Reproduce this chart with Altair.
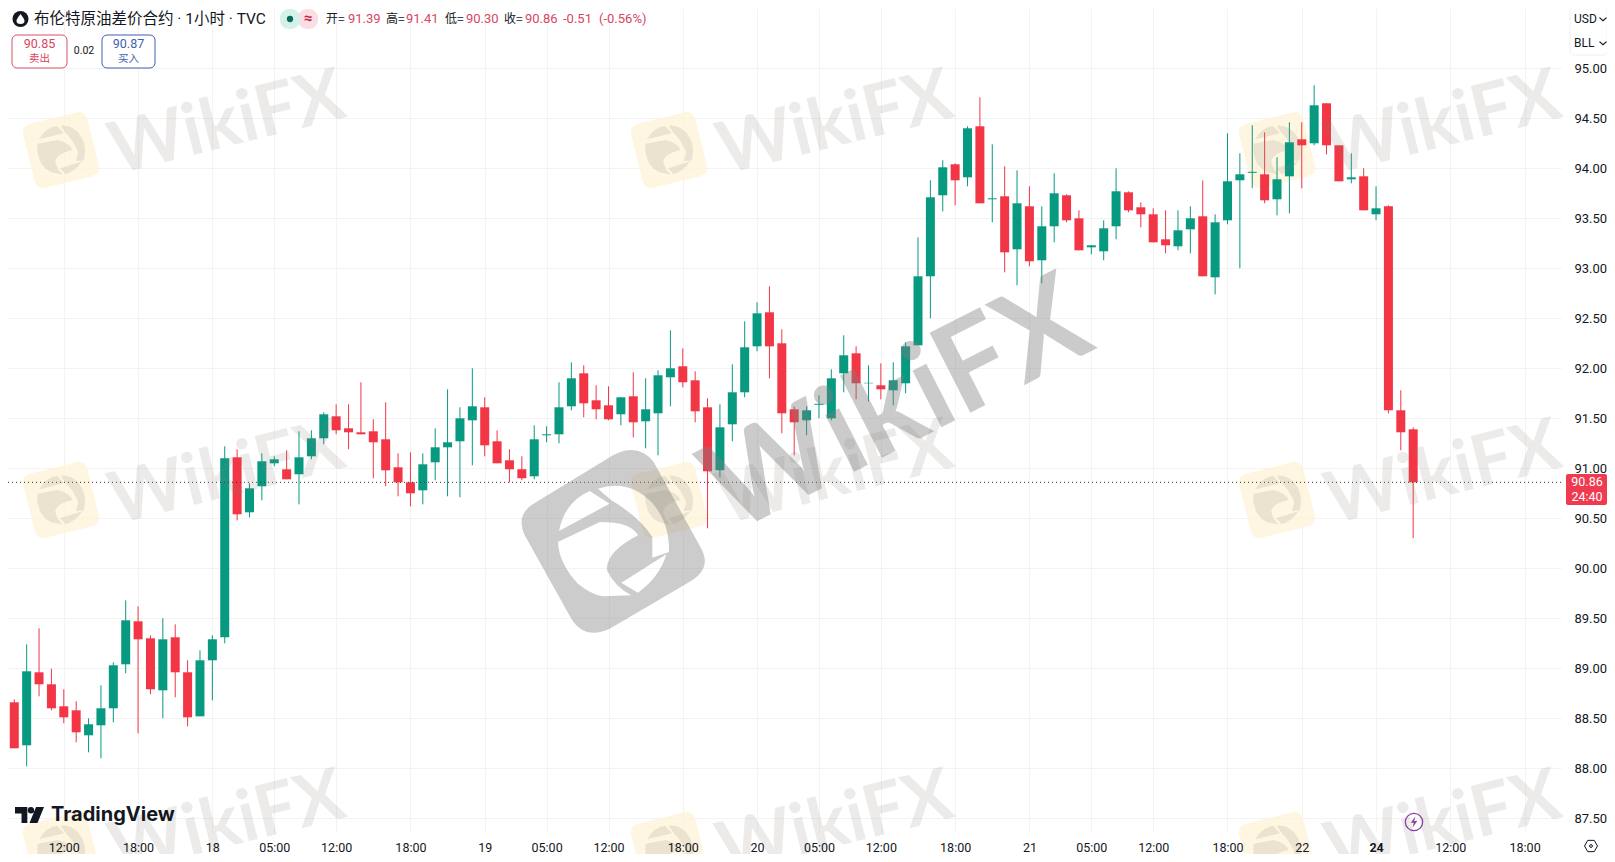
import re
import altair as alt
import pandas as pd

# ---- chart values -------------------------------------------------------
opens = [88.64,88.66,88.23,88.96,88.84,88.62,88.58,88.33,88.43,88.60,89.04,89.47,89.30,88.78,89.31,88.96,88.52,89.08,89.31,91.11,
         90.56,90.82,91.05,90.99,90.94,91.12,91.30,91.52,91.40,91.36,91.37,91.29,91.01,90.86,90.78,91.06,91.21,91.27,91.48,91.61,
         91.27,91.08,90.99,90.92,91.33,91.34,91.62,91.95,91.68,91.63,91.54,91.72,91.47,91.55,91.91,92.02,91.88,91.61,90.98,91.44,
         91.76,92.22,92.56,92.25,91.59,91.48,91.635,91.50,91.95,92.15,91.85,91.83,91.78,91.85,92.23,92.92,93.73,94.04,93.91,94.42,
         93.69,93.72,93.19,93.62,93.08,93.42,93.73,93.50,93.21,93.17,93.42,93.76,93.61,93.54,93.29,93.22,93.39,93.52,92.91,93.48,
         93.88,93.955,93.94,93.69,93.92,94.29,94.25,94.65,94.23,93.89,93.92,93.54,93.62,91.58,91.39]
highs = [88.67,88.69,89.24,89.40,88.997,88.79,88.67,88.50,88.83,89.06,89.68,89.62,89.33,89.50,89.44,89.08,89.18,89.33,91.22,91.19,
         90.85,91.15,91.12,91.18,91.37,91.38,91.56,91.64,91.64,91.86,91.49,91.66,91.15,91.16,91.15,91.40,91.79,91.61,92.00,91.71,
         91.38,91.19,91.12,91.43,91.42,91.86,92.06,92.03,91.83,91.82,91.71,91.96,91.90,91.98,92.38,92.20,91.97,91.70,91.64,92.04,
         92.47,92.66,92.82,92.39,91.62,91.62,91.73,91.99,92.33,92.22,92.03,92.05,92.06,92.26,93.31,93.88,94.08,94.05,94.42,94.71,
         94.24,94.02,93.98,93.82,93.62,93.95,93.74,93.58,93.23,93.48,94.00,93.77,93.66,93.60,93.58,93.58,93.62,93.88,93.54,94.35,
         94.15,94.43,94.36,94.11,94.46,94.46,94.83,94.65,94.23,94.15,94.00,93.82,93.63,91.78,91.41]
lows = [88.63,88.20,88.02,88.72,88.58,88.45,88.26,88.16,88.10,88.46,88.95,88.35,88.74,88.50,88.71,88.42,88.52,88.68,89.25,90.48,
        90.51,90.68,91.02,90.89,90.64,91.09,91.24,91.34,91.19,91.34,90.90,90.82,90.72,90.62,90.64,90.88,90.72,90.71,91.03,91.12,
        91.05,90.86,90.88,90.89,91.26,91.25,91.58,91.51,91.49,91.48,91.43,91.31,91.20,91.13,91.62,91.81,91.46,90.40,90.91,91.27,
        91.71,92.17,91.90,91.35,91.13,91.33,91.50,91.48,91.76,91.69,91.67,91.69,91.63,91.75,92.23,92.50,93.57,93.63,93.82,93.65,
        93.46,92.96,92.83,93.02,92.85,93.26,93.46,93.18,93.14,93.08,93.29,93.56,93.41,93.26,93.15,93.18,93.15,92.92,92.74,93.44,
        93.00,93.80,93.65,93.53,93.55,93.80,94.23,94.14,93.87,93.85,93.58,93.48,91.55,91.18,90.30]
closes = [88.67,88.20,88.97,88.84,88.60,88.51,88.36,88.44,88.60,89.03,89.48,89.29,88.79,89.29,88.96,88.51,89.08,89.29,91.10,90.54,
          90.80,91.07,91.09,90.89,91.11,91.30,91.54,91.38,91.36,91.34,91.26,90.98,90.86,90.75,91.04,91.21,91.26,91.50,91.62,91.23,
          91.05,90.99,90.90,91.29,91.34,91.61,91.90,91.65,91.59,91.49,91.71,91.46,91.59,91.93,92.00,91.86,91.57,90.97,91.41,91.76,
          92.21,92.55,92.22,91.55,91.46,91.58,91.645,91.90,92.13,91.85,91.855,91.79,91.88,92.22,92.92,93.71,94.01,93.88,94.40,93.65,
          93.70,93.16,93.65,93.07,93.42,93.75,93.48,93.18,93.23,93.40,93.77,93.58,93.54,93.26,93.23,93.38,93.50,92.92,93.46,93.87,
          93.94,93.965,93.68,93.89,94.26,94.23,94.63,94.23,93.87,93.91,93.58,93.60,91.58,91.36,90.86]

price_ticks = [87.5,88,88.5,89,89.5,90,90.5,91,91.5,92,92.5,93,93.5,94,94.5,95]
time_ticks = [5,11,17,22,27,33,39,44,49,55,61,66,71,77,83,88,93,99,105,111,117,123]
time_labels = ["12:00","18:00","18","05:00","12:00","18:00","19","05:00","12:00","18:00","20","05:00","12:00","18:00","21",
               "05:00","12:00","18:00","22","24","12:00","18:00"]

GREEN, RED = "#089981", "#F23645"
W, H = 1553, 824
one = pd.DataFrame({"a": [0]})

df = pd.DataFrame({"i": range(len(opens)), "o": opens, "h": highs, "l": lows, "c": closes})
df["dir"] = ["up" if c >= o else "down" for o, c in zip(opens, closes)]

color = alt.Color("dir:N", scale=alt.Scale(domain=["up", "down"], range=[GREEN, RED]), legend=None)
x_scale = alt.Scale(domain=[0.4927, 125.94], nice=False, zero=False, padding=0)
y_scale = alt.Scale(domain=[87.363, 95.603], nice=False, zero=False, padding=0)
label_map = "{" + ",".join(f"'{t}':'{s}'" for t, s in zip(time_ticks, time_labels)) + "}"

# gridlines stay below the candles, tick labels above the watermark
x_grid = alt.Axis(values=time_ticks, title=None, orient="bottom", grid=True, gridColor="#f3f3f3", domain=False,
                  ticks=False, labels=False)
y_grid = alt.Axis(values=price_ticks, title=None, orient="right", grid=True, gridColor="#f3f3f3", domain=False,
                  ticks=False, labels=False)
x_axis = alt.Axis(values=time_ticks, labelExpr=label_map + "[datum.value]", title=None, orient="bottom", grid=False,
                  domain=False, ticks=False, labelPadding=9, labelFontSize=12.5, labelFont="Roboto",
                  labelColor="#131722", labelOverlap=False, labelBound=False, labelFlush=False, zindex=1,
                  labelFontWeight={"condition": {"test": "datum.value==111", "value": "bold"}, "value": "normal"})
y_axis = alt.Axis(values=price_ticks, format=".2f", title=None, orient="right", grid=False,
                  domain=False, ticks=False, labelPadding=13, labelFontSize=13, labelFont="Roboto", zindex=1,
                  labelColor="#131722", labelOverlap=False, labelBound=False, labelFlush=False)

grid_layer = alt.Chart(df).mark_rule(strokeWidth=1, opacity=0).encode(
    x=alt.X("i:Q", scale=x_scale, axis=x_grid), y=alt.Y("l:Q", scale=y_scale, axis=y_grid), y2="h:Q")
label_layer = alt.Chart(df).mark_rule(strokeWidth=1, opacity=0).encode(
    x=alt.X("i:Q", scale=x_scale, axis=x_axis), y=alt.Y("l:Q", scale=y_scale, axis=y_axis), y2="h:Q")
wicks = alt.Chart(df).mark_rule(strokeWidth=1).encode(
    x=alt.X("i:Q", scale=x_scale, axis=None), y=alt.Y("l:Q", scale=y_scale, axis=None), y2="h:Q", color=color)
bodies = alt.Chart(df).mark_bar(size=9).encode(
    x=alt.X("i:Q", scale=x_scale, axis=None), y=alt.Y("o:Q", scale=y_scale, axis=None), y2="c:Q", color=color)
last_line = alt.Chart(one).mark_rule(strokeDash=[1, 3], color="#333333", strokeWidth=1).encode(
    y=alt.datum(closes[-1], scale=y_scale, axis=None), x=alt.value(0), x2=alt.value(W))


# ---- helpers: page coordinates -> chart coordinates ---------------------
def text(px, py, s, size=13, col="#131722", font="Roboto", align="left", weight="normal", angle=0, opacity=1):
    kw = {"angle": angle % 360} if angle else {}
    return alt.Chart(one).mark_text(text=s, fontSize=size, color=col, font=font, align=align, baseline="middle",
                                    fontWeight=weight, opacity=opacity, **kw).encode(
        x=alt.value(px - 8), y=alt.value(py - 8))


def rect(x0, y0, x1, y1, fill="#ffffff", stroke=None, r=0, sw=1, opacity=1):
    kw = {"stroke": stroke, "strokeWidth": sw} if stroke else {}
    return alt.Chart(one).mark_rect(color=fill, cornerRadius=r, opacity=opacity, **kw).encode(
        x=alt.value(x0 - 8), x2=alt.value(x1 - 8), y=alt.value(y0 - 8), y2=alt.value(y1 - 8))


def symbol(px, py, shape, side, fill=None, stroke=None, sw=1, angle=0, opacity=1):
    kw = {"angle": angle % 360} if angle else {}
    if fill:
        kw.update(filled=True, color=fill, strokeWidth=0)
    else:
        kw.update(filled=False, color=stroke, strokeWidth=sw)
    return alt.Chart(one).mark_point(shape=shape, size=side ** 2, opacity=opacity, **kw).encode(
        x=alt.value(px - 8), y=alt.value(py - 8))


def norm(path, cx=340, cy=365, half=270):
    toks = re.findall(r"[MLQZ]|-?\d+(?:\.\d+)?", path)
    out, idx = [], 0
    for t in toks:
        if t in "MLQZ":
            out.append(t)
        else:
            v = float(t)
            out.append(f"{(v - (cx if idx % 2 == 0 else cy)) / half:.3f}")
            idx += 1
    return " ".join(out)


OUTER = "M110,245 L340,105 Q415,65 462,125 L605,385 Q640,450 560,490 L330,625 Q255,660 215,595 L75,345 Q45,280 110,245 Z"
INNER = ("M178,332 L330,250 L270,212 Q195,245 178,332 Z "
         "M295,205 L335,240 Q420,290 458,350 L458,412 L508,395 Q510,305 455,245 Q385,175 295,205 Z "
         "M175,365 Q178,430 235,490 Q270,520 310,528 L395,525 Q345,500 322,450 Q318,395 415,345 Q395,305 300,305 L175,365 Z "
         "M365,487 L415,517 Q480,470 500,402 Z")
BIG_LOGO = norm(OUTER + " " + INNER)
EAGLE = norm(INNER)
ROUND_SQ = "M-0.7,-1 L0.7,-1 Q1,-1 1,-0.7 L1,0.7 Q1,1 0.7,1 L-0.7,1 Q-1,1 -1,0.7 L-1,-0.7 Q-1,-1 -0.7,-1 Z"
TV = ("M-1,-0.55 L-0.15,-0.55 L-0.15,0.55 L-0.55,0.55 L-0.55,-0.1 L-1,-0.1 Z "
      "M0.1,-0.55 Q0.32,-0.55 0.32,-0.32 Q0.32,-0.1 0.1,-0.1 Q-0.12,-0.1 -0.12,-0.32 Q-0.12,-0.55 0.1,-0.55 Z "
      "M0.45,-0.55 L1,-0.55 L0.55,0.55 L0,0.55 Z")
BOLT = "M0.25,-1 L-0.6,0.15 L-0.05,0.15 L-0.25,1 L0.6,-0.2 L0.05,-0.2 Z"
CHEV = "M-1,-0.4 L0,0.5 L1,-0.4"
HEX = "M-0.5,-0.87 L0.5,-0.87 L1,0 L0.5,0.87 L-0.5,0.87 L-1,0 Z"
DROP = "M0,-1 Q0.8,0 0.8,0.35 Q0.8,1 0,1 Q-0.8,1 -0.8,0.35 Q-0.8,0 0,-1 Z"

logo_xy = [(x, y) for y in (150, 500, 850) for x in (61, 669, 1277)]
text_xy = [(x, y) for y in (124, 474, 824) for x in (227, 835, 1443)]

under = [symbol(x, y, ROUND_SQ, 66, fill="#fdf3d6", angle=-14, opacity=0.75) for x, y in logo_xy]
over = [symbol(x, y, EAGLE, 79, fill="#8a8078", angle=15, opacity=0.16) for x, y in logo_xy]
over += [text(x, y, "WikiFX", size=72, col="#8a8078", font="Lato", align="center", weight="bold", angle=-14, opacity=0.15)
         for x, y in text_xy]
over += [symbol(613, 542, BIG_LOGO, 180, fill="#7f7f7f", opacity=0.4),
         text(898, 408, "WikiFX", size=124, col="#7f7f7f", font="Lato", align="center", weight="bold", angle=-27, opacity=0.4)]

CJK = "Noto Sans CJK SC"
VAL = "#d9455f"
ui = [
    alt.Chart(one).mark_circle(size=256, color="#131722", opacity=1).encode(x=alt.value(12.5), y=alt.value(11)),
    symbol(20.5, 19, DROP, 10, fill="#ffffff"),
    text(34, 19, "布伦特原油差价合约 · 1小时 · TVC", size=15.5, font="Roboto, 'Noto Sans CJK SC'"),
    rect(298, 9, 318, 29, fill="#fbdde4", r=9),
    rect(280, 9, 300, 29, fill="#d6f1ea", r=9),
    alt.Chart(one).mark_circle(size=40, color="#0b6b5d", opacity=1).encode(x=alt.value(282), y=alt.value(11)),
    text(308, 18, "≈", size=15, col="#c2244a", align="center", weight="bold"),
    text(326, 19, "开=", size=12, font=CJK), text(348, 19, "91.39", col=VAL),
    text(386, 19, "高=", size=12, font=CJK), text(406, 19, "91.41", col=VAL),
    text(445, 19, "低=", size=12, font=CJK), text(466, 19, "90.30", col=VAL),
    text(504, 19, "收=", size=12, font=CJK), text(525, 19, "90.86", col=VAL),
    text(563, 19, "-0.51", col=VAL), text(599, 19, "(-0.56%)", col=VAL),
    rect(12, 35, 67, 68, fill="#ffffff", stroke="#d9506a", r=5),
    text(39.5, 44, "90.85", size=12.5, col="#d9455f", align="center"),
    text(39.5, 58.5, "卖出", size=10.5, col="#d9455f", font=CJK, align="center"),
    text(84, 51, "0.02", size=10.5, align="center"),
    rect(102, 35, 155, 68, fill="#ffffff", stroke="#3f5fb0", r=5),
    text(128.5, 44, "90.87", size=12.5, col="#3f5fb0", align="center"),
    text(128.5, 58.5, "买入", size=10.5, col="#3f5fb0", font=CJK, align="center"),
    rect(1570, 7, 1607, 55, fill="#ffffff", stroke="#f0f0f0", r=4),
    text(1574, 19, "USD", size=12), text(1574, 43, "BLL", size=12),
    symbol(1603, 19, CHEV, 7, stroke="#131722", sw=1.2),
    symbol(1603, 43, CHEV, 7, stroke="#131722", sw=1.2),
    rect(1566, 474, 1607, 505, fill="#ef3a50", r=2),
    text(1587, 482, "90.86", size=12.5, col="#ffffff", align="center"),
    text(1587, 497, "24:40", size=12.5, col="#ffffff", align="center"),
    symbol(29.5, 815, TV, 29, fill="#131722"),
    text(51, 815, "TradingView", size=20, col="#131722", font="Inter", weight="bold"),
    alt.Chart(one).mark_circle(size=300, filled=False, color="#8e3fa8", strokeWidth=1.3, opacity=1).encode(
        x=alt.value(1406), y=alt.value(814)),
    symbol(1414, 822, BOLT, 11, fill="#8e3fa8"),
    symbol(1591, 846, HEX, 13, stroke="#131722", sw=1),
    alt.Chart(one).mark_circle(size=8, filled=False, color="#131722", strokeWidth=1, opacity=1).encode(
        x=alt.value(1583), y=alt.value(838)),
]

chart = (alt.layer(grid_layer, label_layer, *under, wicks, bodies, last_line, *over, *ui)
         .resolve_scale(x="shared", y="shared")
         .resolve_axis(x="independent", y="independent")
         .properties(
             width=W, height=H,
             padding={"left": 0, "top": 0, "right": 46, "bottom": 22},
             autosize=alt.AutoSizeParams(type="none"),
             background="#ffffff",
         ).configure_view(stroke=None))

chart.save("out.html", embed_options={"renderer": "svg", "actions": False})
